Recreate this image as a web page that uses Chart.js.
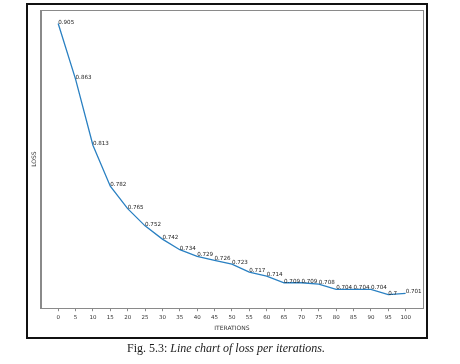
<!DOCTYPE html>
<html>
<head>
    <title>Line chart of loss per iterations</title>
    <script src="https://cdn.jsdelivr.net/npm/chart.js"></script>
    <style>
        body { margin: 0; background: #fff; }
        #wrap { position: relative; width: 460px; height: 364px; overflow: hidden; }
        #frame { position: absolute; left: 26px; top: 3px; width: 402px; height: 336px; box-sizing: border-box; border: 2px solid #111; }
        #myChart { position: absolute; left: 0; top: 0; }
        #caption { position: absolute; left: 0; width: 452px; top: 341px; text-align: center;
                   font-family: "Liberation Serif", serif; font-size: 12px; line-height: 14px; color: #1a1a1a; }
    </style>
</head>
<body>
<div id="wrap">
    <div id="frame"></div>
    <canvas id="myChart" width="460" height="364"></canvas>
    <div id="caption">Fig. 5.3: <i>Line chart of loss per iterations.</i></div>
</div>
<script>
    // values
    const iterations = [0, 5, 10, 15, 20, 25, 30, 35, 40, 45, 50, 55, 60, 65, 70, 75, 80, 85, 90, 95, 100];
    const loss = [0.905, 0.863, 0.813, 0.782, 0.765, 0.752, 0.742, 0.734, 0.729, 0.726, 0.723,
                  0.717, 0.714, 0.709, 0.709, 0.708, 0.704, 0.704, 0.704, 0.7, 0.701];
    const xTicks = [0, 5, 10, 15, 20, 25, 30, 35, 40, 45, 50, 55, 60, 65, 70, 75, 80, 85, 90, 95, 100];

    const FONT = 'DejaVu Sans';

    // box around the plot area (matplotlib style axes frame)
    const framePlugin = {
        id: 'frame',
        afterDraw(chart) {
            const a = chart.chartArea, ctx = chart.ctx;
            ctx.save();
            ctx.strokeStyle = '#8a8a8a';
            ctx.lineWidth = 1;
            ctx.strokeRect(Math.round(a.left) + 0.5, Math.round(a.top) + 0.5,
                Math.round(a.right - a.left), Math.round(a.bottom - a.top));
            ctx.restore();
        }
    };

    // value written at each point, like plt.annotate
    const valueLabels = {
        id: 'valueLabels',
        afterDatasetsDraw(chart) {
            const ctx = chart.ctx;
            const meta = chart.getDatasetMeta(0);
            ctx.save();
            ctx.font = '5.6px "' + FONT + '"';
            ctx.fillStyle = '#222';
            ctx.textAlign = 'left';
            ctx.textBaseline = 'alphabetic';
            meta.data.forEach((pt, i) => {
                ctx.fillText(String(loss[i]), pt.x, pt.y);
            });
            ctx.restore();
        }
    };

    const ctx = document.getElementById('myChart').getContext('2d');
    const myChart = new Chart(ctx, {
        type: 'line',
        data: {
            datasets: [{
                data: iterations.map((x, i) => ({ x: x, y: loss[i] })),
                borderColor: '#2a80c2',
                borderWidth: 1.3,
                pointRadius: 0,
                tension: 0,
                fill: false
            }]
        },
        options: {
            responsive: false,
            animation: false,
            devicePixelRatio: 1,
            layout: { padding: { left: 31, right: 37, top: 10, bottom: 32 } },
            plugins: { legend: { display: false }, tooltip: { enabled: false } },
            scales: {
                x: {
                    type: 'linear',
                    min: -5,
                    max: 105,
                    afterBuildTicks: axis => { axis.ticks = xTicks.map(v => ({ value: v })); },
                    grid: { display: true, drawOnChartArea: false, drawTicks: true, tickLength: 3, color: '#8a8a8a' },
                    border: { display: true, color: '#8a8a8a' },
                    ticks: { font: { family: FONT, size: 5.5 }, color: '#333', padding: 3, maxRotation: 0 },
                    title: { display: true, text: 'ITERATIONS', font: { family: FONT, size: 6 }, color: '#333', padding: { top: 1, bottom: 0 } }
                },
                y: {
                    min: 0.68975,
                    max: 0.91525,
                    grid: { display: false, drawTicks: false },
                    border: { display: true, color: '#8a8a8a' },
                    ticks: { display: false },
                    title: { display: true, text: 'LOSS', font: { family: FONT, size: 6 }, color: '#333', padding: { top: 0, bottom: 2.6 } }
                }
            }
        },
        plugins: [framePlugin, valueLabels]
    });
</script>
</body>
</html>
